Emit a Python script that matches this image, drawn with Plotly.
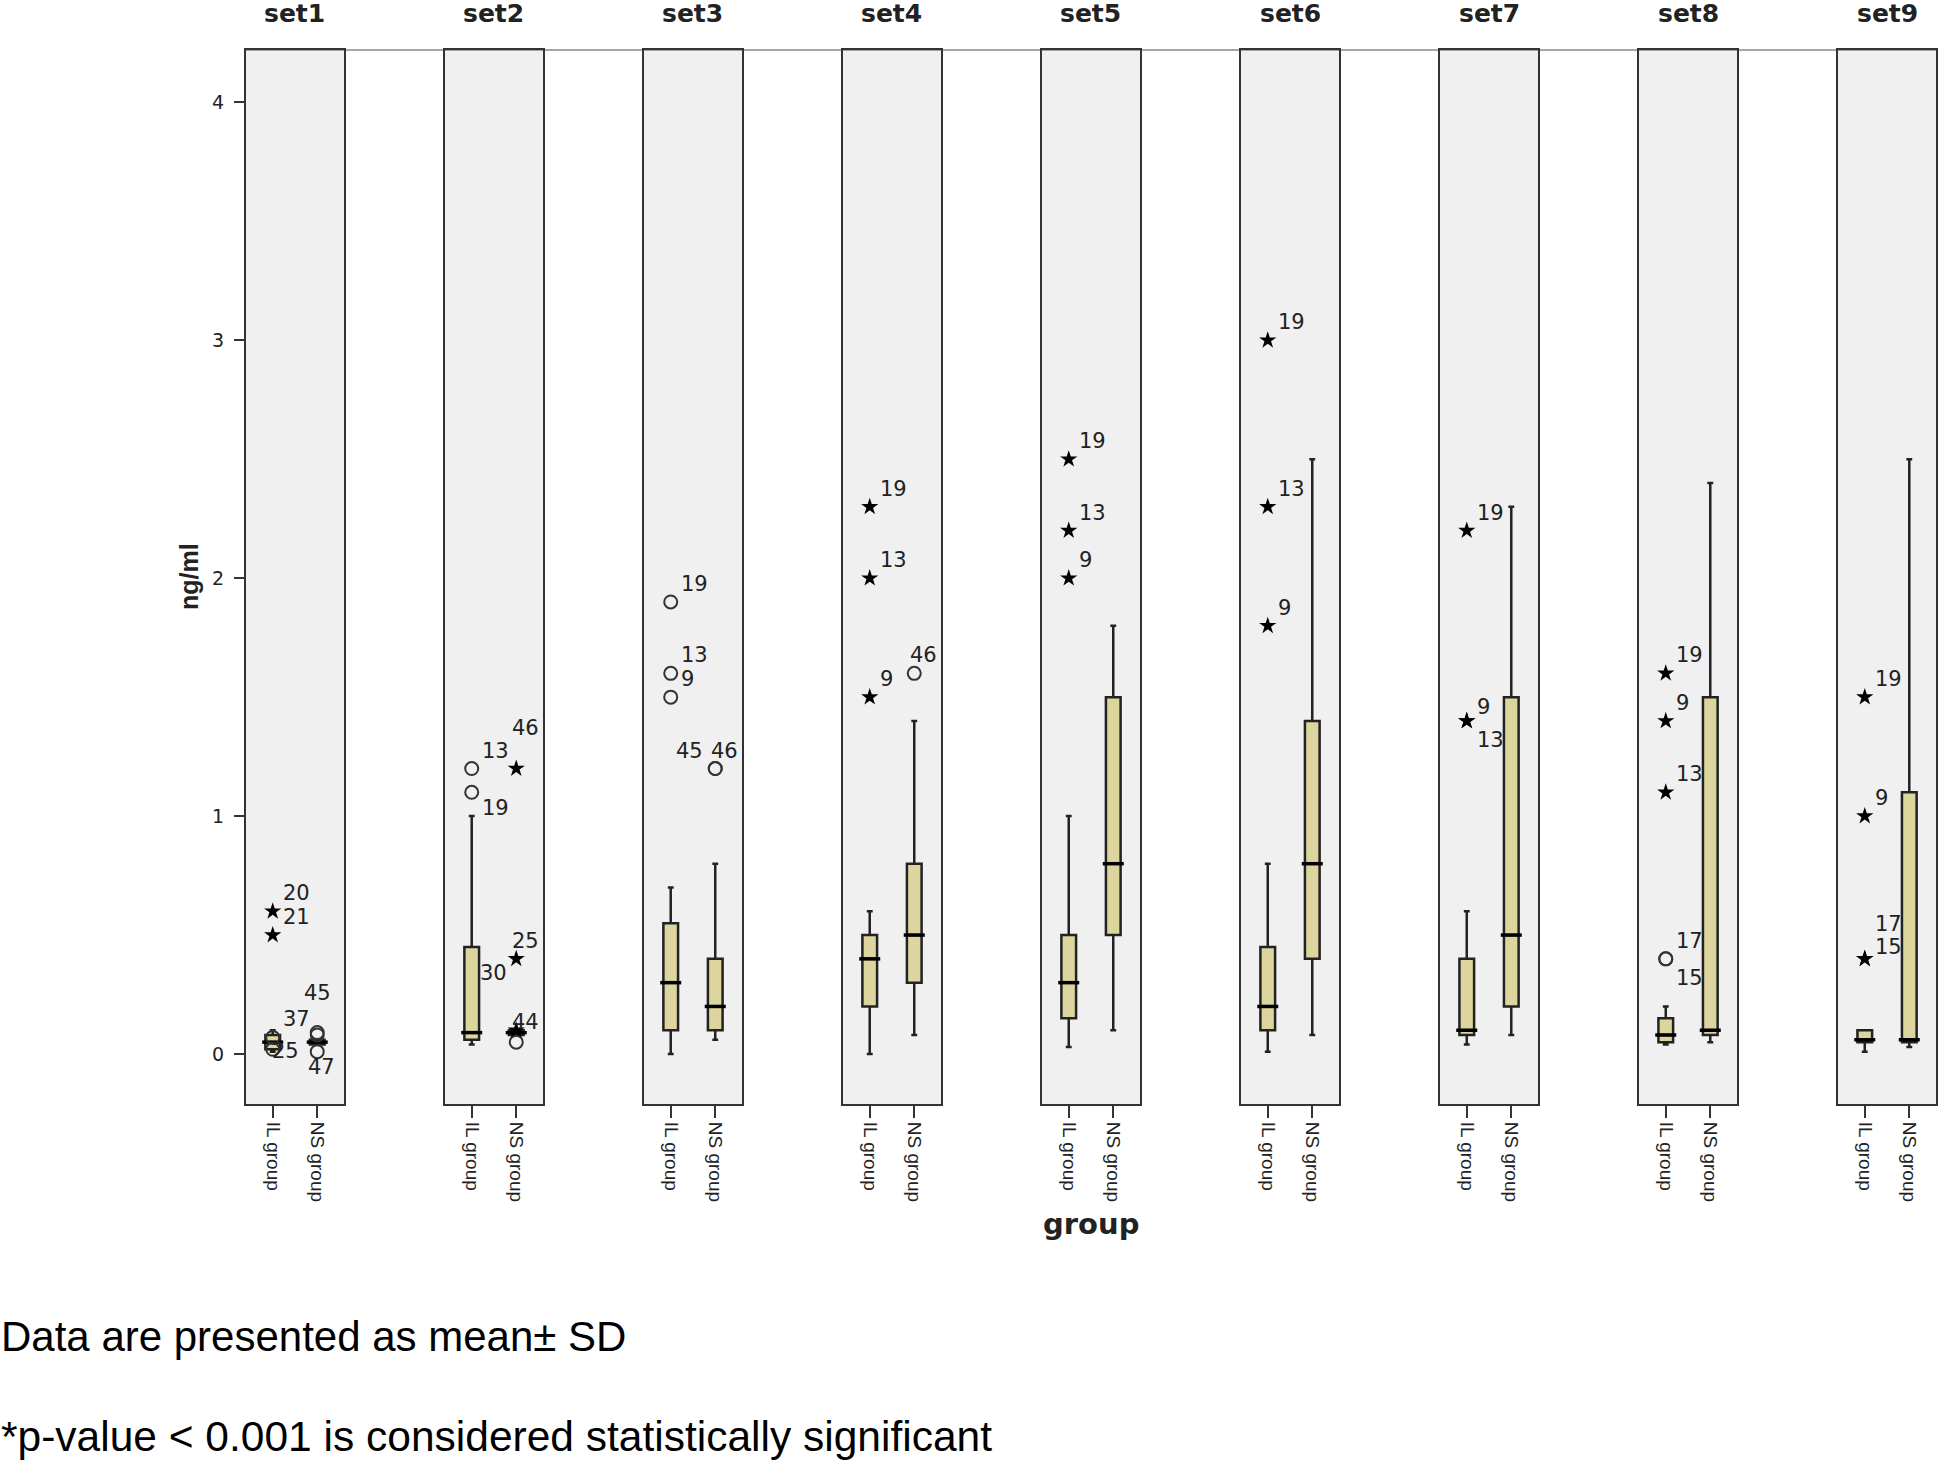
import plotly.graph_objects as go
from plotly.subplots import make_subplots

# ---------------- data ----------------
sets = ["set1", "set2", "set3", "set4", "set5", "set6", "set7", "set8", "set9"]
groups = ["IL group", "NS group"]

il_low  = [0.01, 0.04, 0.00, 0.00, 0.03, 0.01, 0.04, 0.04, 0.01]
il_q1   = [0.02, 0.06, 0.10, 0.20, 0.15, 0.10, 0.08, 0.05, 0.05]
il_med  = [0.05, 0.09, 0.30, 0.40, 0.30, 0.20, 0.10, 0.08, 0.06]
il_q3   = [0.08, 0.45, 0.55, 0.50, 0.50, 0.45, 0.40, 0.15, 0.10]
il_high = [0.10, 1.00, 0.70, 0.60, 1.00, 0.80, 0.60, 0.20, 0.10]

ns_low  = [0.04, 0.08, 0.06, 0.08, 0.10, 0.08, 0.08, 0.05, 0.03]
ns_q1   = [0.04, 0.08, 0.10, 0.30, 0.50, 0.40, 0.20, 0.08, 0.05]
ns_med  = [0.05, 0.09, 0.20, 0.50, 0.80, 0.80, 0.50, 0.10, 0.06]
ns_q3   = [0.06, 0.10, 0.40, 0.80, 1.50, 1.40, 1.50, 1.50, 1.10]
ns_high = [0.06, 0.10, 0.80, 1.40, 1.80, 2.50, 2.30, 2.40, 2.50]

# outliers: set index, group, value, kind ("o" circle, "*" extreme, "" label only), case label
out_set   = [0, 0, 0, 0, 0, 0, 0,
             1, 1, 1, 1, 1, 1, 1,
             2, 2, 2, 2, 2,
             3, 3, 3, 3,
             4, 4, 4,
             5, 5, 5,
             6, 6, 6,
             7, 7, 7, 7, 7,
             8, 8, 8, 8]
out_group = ["IL group", "IL group", "IL group", "IL group", "NS group", "NS group", "NS group",
             "IL group", "IL group", "IL group", "NS group", "NS group", "NS group", "NS group",
             "IL group", "IL group", "IL group", "NS group", "NS group",
             "IL group", "IL group", "IL group", "NS group",
             "IL group", "IL group", "IL group",
             "IL group", "IL group", "IL group",
             "IL group", "IL group", "IL group",
             "IL group", "IL group", "IL group", "IL group", "IL group",
             "IL group", "IL group", "IL group", "IL group"]
out_value = [0.60, 0.50, 0.07, 0.02, 0.09, 0.08, 0.01,
             1.20, 1.10, 0.34, 1.20, 0.40, 0.10, 0.05,
             1.90, 1.60, 1.50, 1.20, 1.20,
             2.30, 2.00, 1.50, 1.60,
             2.50, 2.20, 2.00,
             3.00, 2.30, 1.80,
             2.20, 1.40, 1.40,
             1.60, 1.40, 1.10, 0.40, 0.40,
             1.50, 1.00, 0.40, 0.40]
out_kind  = ["*", "*", "o", "o", "o", "o", "o",
             "o", "o", "", "*", "*", "*", "o",
             "o", "o", "o", "o", "o",
             "*", "*", "*", "o",
             "*", "*", "*",
             "*", "*", "*",
             "*", "*", "*",
             "*", "*", "*", "o", "o",
             "*", "*", "*", "*"]
out_label = ["20", "21", "37", "25", "45", "", "47",
             "13", "19", "30", "46", "25", "44", "",
             "19", "13", "9", "46", "45",
             "19", "13", "9", "46",
             "19", "13", "9",
             "19", "13", "9",
             "19", "9", "13",
             "19", "9", "13", "17", "15",
             "19", "9", "17", "15"]

# label placement (style): (xanchor, xshift px, yshift px)
label_style = {
    (0, "25"): ("left", -3, -2),
    (0, "45"): ("center", 0, 40),
    (0, "47"): ("center", 4, -15),
    (1, "19"): ("left", 8, -16),
    (1, "30"): ("left", 6, 0),
    (1, "46"): ("left", -6, 41),
    (1, "44"): ("left", -6, 8),
    (2, "45"): ("right", -10, 18),
    (6, "13"): ("left", 8, -19),
    (6, "9"): ("left", 8, 14),
    (7, "15"): ("left", 8, -19),
    (8, "17"): ("left", 8, 35),
    (8, "15"): ("left", 8, 12),
}

BOX_FILL = "#DCD59E"
LINE_DARK = "#222222"
PANEL_BG = "#F0F0F0"
WIDE = "DejaVu Sans, Verdana, sans-serif"
NARROW = "Liberation Sans, Arial, sans-serif"

n = len(sets)
fig = make_subplots(rows=1, cols=n, horizontal_spacing=0.0598)

for i in range(n):
    col = i + 1
    fig.add_trace(go.Box(
        x=groups,
        lowerfence=[il_low[i], ns_low[i]],
        q1=[il_q1[i], ns_q1[i]],
        median=[il_med[i], ns_med[i]],
        q3=[il_q3[i], ns_q3[i]],
        upperfence=[il_high[i], ns_high[i]],
        fillcolor=BOX_FILL,
        line=dict(color=LINE_DARK, width=2.5),
        width=0.33, whiskerwidth=0.4,
        boxpoints=False, showlegend=False, hoverinfo="skip",
    ), row=1, col=col)
    # thicker median line (SPSS style)
    fig.add_trace(go.Scatter(
        x=groups, y=[il_med[i], ns_med[i]], mode="markers",
        marker=dict(symbol="line-ew", size=15, line=dict(width=3.5, color="black")),
        showlegend=False, hoverinfo="skip",
    ), row=1, col=col)

    idx = [k for k in range(len(out_set)) if out_set[k] == i]
    circ = [k for k in idx if out_kind[k] == "o"]
    star = [k for k in idx if out_kind[k] == "*"]
    if circ:
        fig.add_trace(go.Scatter(
            x=[out_group[k] for k in circ], y=[out_value[k] for k in circ], mode="markers",
            marker=dict(symbol="circle-open", size=13, color="#333333", line=dict(width=2)),
            showlegend=False, hoverinfo="skip",
        ), row=1, col=col)
    if star:
        fig.add_trace(go.Scatter(
            x=[out_group[k] for k in star], y=[out_value[k] for k in star], mode="markers",
            marker=dict(symbol="star", size=13, color="black", line=dict(width=0)),
            showlegend=False, hoverinfo="skip",
        ), row=1, col=col)

    xr = "x" if col == 1 else f"x{col}"
    yr = "y" if col == 1 else f"y{col}"
    for k in idx:
        if not out_label[k]:
            continue
        if (i, out_label[k]) in label_style:
            xa, xs, ys = label_style[(i, out_label[k])]
        elif out_group[k] == "IL group":
            xa, xs, ys = "left", 8, 18
        else:
            xa, xs, ys = "left", -6, 18
        fig.add_annotation(x=out_group[k], y=out_value[k], xref=xr, yref=yr,
                           text=out_label[k], showarrow=False,
                           xanchor=xa, yanchor="middle", xshift=xs, yshift=ys,
                           font=dict(family=WIDE, size=21, color="#222"))

    # panel title
    fig.add_annotation(x=0.5, y=1.035, xref=f"{xr} domain", yref="paper",
                       text=f"<b>{sets[i]}</b>", showarrow=False,
                       xanchor="center", yanchor="middle",
                       font=dict(family=WIDE, size=25, color="#222"))

    fig.update_xaxes(type="category", categoryorder="array", categoryarray=groups,
                     range=[-0.6, 1.6], showline=True, mirror=True, linecolor="#333",
                     linewidth=2, ticks="outside", ticklen=12, tickwidth=2, tickcolor="#333",
                     tickangle=90, tickfont=dict(family=NARROW, size=19, color="#222"),
                     showgrid=False, zeroline=False, row=1, col=col)
    fig.update_yaxes(range=[-0.21, 4.22], showline=True, mirror=True, linecolor="#333",
                     linewidth=2, showgrid=False, zeroline=False, tickvals=[0, 1, 2, 3, 4],
                     ticks="outside" if col == 1 else "", ticklen=10, tickwidth=2,
                     tickcolor="#333", showticklabels=(col == 1),
                     tickfont=dict(family=WIDE, size=19, color="#222"),
                     row=1, col=col)

fig.update_yaxes(ticklabelstandoff=6, row=1, col=1)

# thin line joining panel tops
fig.add_shape(type="line", xref="paper", yref="paper", x0=0, x1=1, y0=1, y1=1,
              line=dict(color="#8a8a8a", width=1.5), layer="below")

fig.add_annotation(x=-0.0337, y=0.5, xref="paper", yref="paper", text="<b>ng/ml</b>",
                   textangle=-90, showarrow=False, xanchor="center", yanchor="middle",
                   font=dict(family=NARROW, size=25, color="#222"))
fig.add_annotation(x=0.5, y=-0.114, xref="paper", yref="paper", text="<b>group</b>",
                   showarrow=False, xanchor="center", yanchor="middle",
                   font=dict(family=WIDE, size=29, color="#222"))
fig.add_annotation(x=-0.1462, y=-0.221, xref="paper", yref="paper",
                   text="Data are presented as mean\u00b1 SD", showarrow=False,
                   xanchor="left", yanchor="middle",
                   font=dict(family=NARROW, size=42, color="black"))
fig.add_annotation(x=-0.1462, y=-0.315, xref="paper", yref="paper",
                   text="*p-value < 0.001 is considered statistically significant", showarrow=False,
                   xanchor="left", yanchor="middle",
                   font=dict(family=NARROW, size=42.5, color="black"))

fig.update_layout(width=1946, height=1462,
                  margin=dict(l=246, r=8, t=50, b=358),
                  plot_bgcolor=PANEL_BG, paper_bgcolor="white",
                  showlegend=False)

fig.write_html("out.html",
               config={"displayModeBar": False},
               post_script="document.body.style.margin='0px';document.body.style.overflow='hidden';")
